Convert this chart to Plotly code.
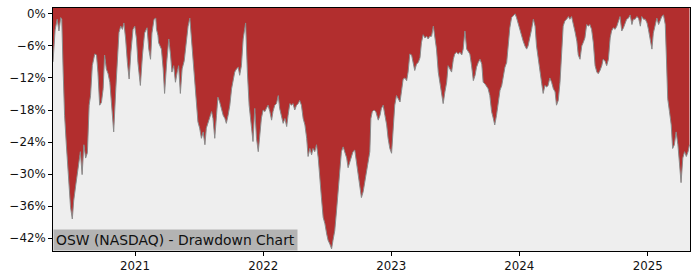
import plotly.graph_objects as go

title_text = "OSW (NASDAQ) - Drawdown Chart"

dates = [
"2020-05-12","2020-05-14","2020-05-18","2020-05-24","2020-05-29","2020-06-03","2020-06-06","2020-06-10","2020-06-14","2020-06-19",
"2020-06-26","2020-07-01","2020-07-06","2020-07-10","2020-07-16","2020-07-22","2020-07-29","2020-08-03","2020-08-08","2020-08-13",
"2020-08-18","2020-08-23","2020-08-27","2020-09-01","2020-09-08","2020-09-13","2020-09-17","2020-09-22","2020-09-27","2020-10-02",
"2020-10-06","2020-10-11","2020-10-16","2020-10-21","2020-10-26","2020-11-01","2020-11-07","2020-11-12","2020-11-16","2020-11-21",
"2020-11-26","2020-11-30","2020-12-05","2020-12-10","2020-12-15","2020-12-20","2020-12-26","2020-12-31","2021-01-05","2021-01-09",
"2021-01-16","2021-01-22","2021-01-28","2021-02-04","2021-02-09","2021-02-14","2021-02-18","2021-02-24","2021-03-01","2021-03-03",
"2021-03-07","2021-03-09","2021-03-17","2021-03-22","2021-03-26","2021-04-01","2021-04-07","2021-04-12","2021-04-16","2021-04-21",
"2021-04-26","2021-05-01","2021-05-05","2021-05-10","2021-05-15","2021-05-21","2021-05-27","2021-06-01","2021-06-06","2021-06-11",
"2021-06-15","2021-06-20","2021-06-25","2021-06-29","2021-07-04","2021-07-09","2021-07-14","2021-07-19","2021-07-23","2021-07-28",
"2021-08-02","2021-08-07","2021-08-11","2021-08-16","2021-08-21","2021-08-25","2021-08-30","2021-09-04","2021-09-09","2021-09-14",
"2021-09-18","2021-09-23","2021-09-28","2021-10-03","2021-10-07","2021-10-12","2021-10-17","2021-10-22","2021-10-26","2021-10-31",
"2021-11-05","2021-11-10","2021-11-12","2021-11-17","2021-11-22","2021-11-29","2021-12-03","2021-12-08","2021-12-13","2021-12-18",
"2021-12-22","2021-12-27","2022-01-01","2022-01-06","2022-01-10","2022-01-15","2022-01-20","2022-01-25","2022-01-29","2022-02-03",
"2022-02-08","2022-02-13","2022-02-17","2022-02-22","2022-02-27","2022-03-04","2022-03-09","2022-03-13","2022-03-18","2022-03-23",
"2022-03-27","2022-04-01","2022-04-06","2022-04-11","2022-04-15","2022-04-20","2022-04-25","2022-04-30","2022-05-05","2022-05-09",
"2022-05-14","2022-05-19","2022-05-23","2022-05-28","2022-06-02","2022-06-07","2022-06-11","2022-06-16","2022-06-21","2022-06-26",
"2022-07-01","2022-07-05","2022-07-10","2022-07-15","2022-07-19","2022-07-24","2022-07-29","2022-08-03","2022-08-08","2022-08-12",
"2022-08-17","2022-08-22","2022-08-27","2022-08-31","2022-09-05","2022-09-10","2022-09-14","2022-09-19","2022-09-24","2022-09-29",
"2022-10-04","2022-10-08","2022-10-13","2022-10-18","2022-10-23","2022-10-27","2022-11-01","2022-11-04","2022-11-08","2022-11-13",
"2022-11-18","2022-11-25","2022-11-30","2022-12-04","2022-12-09","2022-12-14","2022-12-19","2022-12-23","2022-12-28","2023-01-02",
"2023-01-06","2023-01-11","2023-01-16","2023-01-21","2023-01-26","2023-01-30","2023-02-04","2023-02-09","2023-02-14","2023-02-18",
"2023-02-23","2023-02-28","2023-03-05","2023-03-09","2023-03-14","2023-03-19","2023-03-24","2023-03-28","2023-04-02","2023-04-07",
"2023-04-12","2023-04-16","2023-04-21","2023-04-26","2023-05-01","2023-05-05","2023-05-10","2023-05-15","2023-05-20","2023-05-24",
"2023-05-29","2023-06-03","2023-06-08","2023-06-12","2023-06-17","2023-06-22","2023-06-27","2023-07-01","2023-07-06","2023-07-11",
"2023-07-16","2023-07-21","2023-07-25","2023-07-30","2023-08-04","2023-08-09","2023-08-13","2023-08-18","2023-08-23","2023-08-28",
"2023-09-01","2023-09-06","2023-09-11","2023-09-16","2023-09-20","2023-09-25","2023-09-30","2023-10-04","2023-10-09","2023-10-14",
"2023-10-19","2023-10-23","2023-10-28","2023-11-02","2023-11-07","2023-11-12","2023-11-16","2023-11-21","2023-11-26","2023-11-30",
"2023-12-05","2023-12-10","2023-12-15","2023-12-20","2023-12-24","2023-12-29","2024-01-03","2024-01-08","2024-01-12","2024-01-17",
"2024-01-22","2024-01-26","2024-01-31","2024-02-05","2024-02-10","2024-02-15","2024-02-19","2024-02-24","2024-02-29","2024-03-05",
"2024-03-09","2024-03-14","2024-03-19","2024-03-23","2024-03-28","2024-04-02","2024-04-07","2024-04-12","2024-04-16","2024-04-21",
"2024-04-26","2024-05-01","2024-05-05","2024-05-10","2024-05-15","2024-05-20","2024-05-24","2024-05-29","2024-06-03","2024-06-08",
"2024-06-13","2024-06-17","2024-06-22","2024-06-27","2024-07-01","2024-07-06","2024-07-11","2024-07-16","2024-07-20","2024-07-25",
"2024-07-30","2024-08-04","2024-08-09","2024-08-13","2024-08-18","2024-08-23","2024-08-27","2024-09-01","2024-09-06","2024-09-11",
"2024-09-16","2024-09-20","2024-09-25","2024-09-30","2024-10-05","2024-10-10","2024-10-14","2024-10-19","2024-10-24","2024-10-29",
"2024-11-02","2024-11-07","2024-11-12","2024-11-17","2024-11-21","2024-11-26","2024-12-01","2024-12-06","2024-12-11","2024-12-15",
"2024-12-20","2024-12-25","2024-12-30","2025-01-03","2025-01-08","2025-01-13","2025-01-17","2025-01-22","2025-01-27","2025-02-01",
"2025-02-05","2025-02-10","2025-02-15","2025-02-20","2025-02-23","2025-02-27","2025-03-04","2025-03-09","2025-03-13","2025-03-18",
"2025-03-23","2025-03-28","2025-04-01","2025-04-06","2025-04-11","2025-04-16","2025-04-21","2025-04-26","2025-04-30",
]

drawdown_pct = [
-9.0,-6.0,-3.0,-1.0,-3.2,-0.7,-1.0,-10.9,-19.0,-24.5,
-31.9,-36.2,-38.4,-35.0,-32.0,-28.8,-25.8,-30.1,-24.5,-27.0,
-26.0,-17.1,-15.3,-9.7,-7.5,-7.7,-10.9,-17.1,-16.6,-14.0,
-7.7,-10.3,-11.2,-12.8,-17.1,-22.1,-14.0,-7.7,-3.5,-2.3,
-2.9,-1.7,-4.7,-9.1,-12.2,-7.2,-2.9,-2.3,-4.7,-9.1,
-13.4,-7.7,-3.6,-2.6,-6.6,-8.5,-3.6,-1.0,-0.8,-2.9,
-4.0,-5.4,-6.6,-10.3,-14.9,-9.1,-4.7,-7.7,-10.9,-9.7,
-12.8,-10.9,-9.7,-14.9,-10.3,-8.8,-4.7,-2.3,-0.8,-4.7,
-8.5,-12.8,-16.5,-20.2,-21.4,-23.3,-22.1,-24.5,-21.4,-20.2,
-19.0,-18.3,-19.6,-23.3,-19.0,-15.6,-16.5,-17.7,-19.0,-19.6,
-20.5,-19.0,-17.1,-14.0,-12.2,-10.9,-10.3,-10.0,-11.5,-9.7,
-4.7,-2.0,-1.7,-10.9,-17.1,-21.4,-23.9,-17.7,-23.3,-25.8,
-22.7,-19.5,-18.0,-18.3,-17.7,-17.1,-18.3,-19.9,-18.3,-17.1,
-16.8,-15.3,-17.7,-19.0,-20.5,-19.6,-21.1,-19.0,-16.8,-17.1,
-16.8,-18.0,-17.1,-16.8,-16.2,-17.1,-19.6,-20.8,-23.3,-26.7,
-25.2,-26.4,-25.2,-25.8,-24.5,-27.0,-31.3,-34.4,-38.1,-39.3,
-41.2,-42.4,-43.1,-44.0,-42.4,-40.6,-36.9,-33.3,-29.5,-25.8,
-24.9,-25.8,-27.0,-28.8,-27.6,-26.4,-25.8,-25.5,-27.6,-30.1,
-32.5,-34.4,-33.3,-31.5,-29.5,-27.6,-25.8,-19.6,-18.3,-18.0,
-18.3,-19.9,-19.0,-17.7,-17.1,-19.0,-20.8,-23.3,-25.2,-26.1,
-22.1,-17.1,-15.3,-15.9,-16.5,-14.6,-12.2,-12.0,-12.5,-10.9,
-7.5,-7.7,-9.1,-10.6,-9.4,-9.1,-8.2,-5.4,-3.9,-4.5,
-4.2,-4.7,-4.2,-4.2,-2.3,-4.2,-6.6,-10.9,-13.4,-14.9,
-16.8,-14.6,-12.8,-9.7,-10.3,-10.9,-8.5,-7.5,-7.2,-7.5,
-7.2,-7.7,-6.6,-3.2,-6.6,-7.2,-7.5,-9.7,-12.5,-11.5,
-10.0,-9.1,-8.5,-9.4,-12.8,-13.1,-13.7,-14.0,-15.3,-18.3,
-19.6,-20.8,-19.0,-16.5,-14.3,-13.4,-11.5,-10.0,-9.1,-6.0,
-2.6,-0.7,-0.3,0.0,-0.7,-1.9,-3.4,-4.2,-5.1,-6.0,
-6.6,-6.0,-4.7,-2.9,-1.0,-2.3,-6.0,-8.5,-11.5,-13.1,
-14.9,-13.4,-13.7,-13.4,-12.0,-12.8,-14.0,-14.6,-17.1,-16.2,
-12.8,-6.0,-2.3,-1.3,-1.0,-0.5,-1.0,-0.5,-1.7,-3.4,
-5.1,-7.7,-8.5,-6.0,-5.4,-4.5,-2.0,-2.3,-2.0,-2.9,
-5.4,-9.7,-10.9,-11.2,-10.6,-9.7,-8.5,-8.8,-9.7,-8.5,
-4.5,-3.2,-2.6,-2.9,-2.3,-1.3,-0.5,-3.2,-2.6,-1.7,
-1.0,-0.8,-0.2,-2.0,-1.0,-1.0,-0.5,-0.8,-2.3,-0.5,
-1.0,-1.0,-1.7,-2.9,-4.7,-6.6,-3.6,-2.0,-0.8,-2.0,
-1.3,-0.5,-0.2,-2.0,-7.7,-15.9,-18.3,-20.8,-25.2,-24.5,
-22.1,-24.5,-27.6,-31.6,-27.0,-25.8,-26.7,-25.8,-24.5,
]

y_ticks = [0, -6, -12, -18, -24, -30, -36, -42]
y_tick_labels = ["0%", "\u22126%", "\u221212%", "\u221218%", "\u221224%", "\u221230%", "\u221236%", "\u221242%"]
x_ticks = ["2021-01-01", "2022-01-01", "2023-01-01", "2024-01-01", "2025-01-01"]
x_tick_labels = ["2021", "2022", "2023", "2024", "2025"]

y_top = 1.1
y_bottom = -44.4
x_start = "2020-05-12"
x_end = "2025-05-01 12:00"

fig = go.Figure()
# top boundary of the fill (axis top)
fig.add_trace(go.Scatter(x=[dates[0], dates[-1]], y=[y_top, y_top], mode="lines",
                         line=dict(width=0, color="rgba(0,0,0,0)"), showlegend=False, hoverinfo="skip"))
fig.add_trace(go.Scatter(x=dates, y=drawdown_pct, mode="lines", fill="tonexty",
                         fillcolor="#b22e2e", line=dict(color="#8a8a8a", width=1),
                         showlegend=False))

fig.add_annotation(text=title_text, xref="paper", yref="paper", x=0, y=0,
                   xanchor="left", yanchor="bottom", showarrow=False,
                   bgcolor="#b3b3b3", borderpad=2,
                   font=dict(family="DejaVu Sans", size=13.9, color="#111111"))

fig.update_layout(
    width=700, height=280,
    margin=dict(l=53, r=10, t=7, b=28),
    paper_bgcolor="white", plot_bgcolor="#eeeeee",
    font=dict(family="DejaVu Sans", size=11.8, color="#111111"),
    showlegend=False,
)
fig.update_xaxes(range=[x_start, x_end], tickvals=x_ticks, ticktext=x_tick_labels,
                 showgrid=False, zeroline=False, showline=True, mirror=True,
                 linecolor="black", linewidth=1, ticks="outside", ticklen=4,
                 tickcolor="black")
fig.update_yaxes(range=[y_bottom, y_top], tickvals=y_ticks, ticktext=y_tick_labels,
                 showgrid=False, zeroline=False, showline=True, mirror=True,
                 linecolor="black", linewidth=1, ticks="outside", ticklen=4,
                 tickcolor="black")

fig.write_html("out.html")
